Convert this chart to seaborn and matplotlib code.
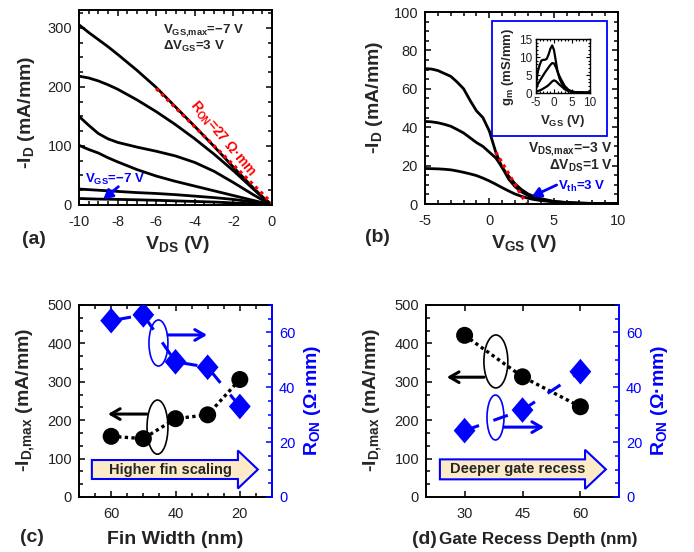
import numpy as np
import pandas as pd
import matplotlib
matplotlib.use("Agg")
import matplotlib.pyplot as plt
import seaborn as sns
from matplotlib.patches import Ellipse, FancyArrow, Rectangle
from matplotlib.ticker import MultipleLocator, AutoMinorLocator

# ---------------- data ----------------
# (a) output characteristics
vds_a = [-10, -9.5, -9, -8.5, -8, -7, -6, -5, -4, -3, -2, -1, -0.5, 0]
id_a1 = [305, 292, 280, 268, 255, 228, 199, 166, 133, 99, 64, 30, 14, 0]
id_a2 = [218, 215, 210, 203.5, 196, 178, 158, 136, 112, 86, 58, 28, 13, 0]
id_a3 = [150, 135, 121, 112, 106, 98, 91, 83, 72, 57, 38, 18, 8.5, 0]
id_a4 = [101, 94, 88, 80, 73, 60, 49, 40, 32, 24, 16, 8, 4, 0]
id_a5 = [27, 26, 25, 24, 23, 21, 19.5, 17.5, 15, 12.5, 9.5, 5, 2.5, 0]
id_a6 = [11, 10.5, 10, 9.8, 9.5, 8.8, 8, 7, 6, 5, 3.5, 2, 1, 0]
ron_line_x = [-6, 0]
ron_line_y = [197, 3]

# (b) transfer characteristics
vgs_b = [-5, -4.5, -4, -3.5, -3, -2.5, -2, -1.5, -1, -0.5, 0, 0.5, 1, 1.5, 2,
         2.5, 3, 3.5, 4, 5, 6, 7, 8, 9, 10]
id_b1 = [70.5, 70.3, 69.5, 68, 66.5, 63.5, 60, 54, 48.5, 45, 38, 27, 19, 13, 9,
         6.3, 4.5, 3.2, 2.4, 1.2, 0.7, 0.4, 0.3, 0.2, 0.2]
id_b2 = [43, 42.8, 42.3, 41.5, 40.5, 38.8, 37, 34.5, 32, 30, 27, 24, 19, 14.5,
         10.5, 7.5, 5.3, 3.8, 2.8, 1.4, 0.8, 0.5, 0.3, 0.2, 0.2]
id_b3 = [18.5, 18.4, 18.3, 18.1, 17.8, 17.2, 16.5, 15.7, 14.8, 13.5, 12, 10.3,
         8.5, 6.8, 5.2, 4, 3, 2.3, 1.8, 1.1, 0.7, 0.4, 0.3, 0.2, 0.2]
vth_line_x = [0.5, 2.9]
vth_line_y = [27, 0]

# (b) inset transconductance
vgs_in = [-5, -4.5, -4, -3.5, -3, -2.5, -2, -1.5, -1, -0.5, 0, 0.5, 1, 1.5, 2,
          3, 4, 5, 6, 8, 10]
gm_1 = [2.5, 6, 7.8, 9.1, 9.3, 9.3, 9.6, 10.8, 12.4, 13.3, 12, 9, 6, 4.2, 3,
        1.5, 0.7, 0.4, 0.3, 0.2, 0.2]
gm_2 = [1.3, 2.5, 3.4, 4.2, 5, 5.8, 6.5, 7.2, 7.9, 8.4, 8.3, 7.3, 6, 4.8, 3.8,
        2, 1, 0.5, 0.3, 0.2, 0.2]
gm_3 = [0.4, 0.6, 0.8, 1.0, 1.3, 1.6, 1.9, 2.3, 2.8, 3.3, 3.6, 3.4, 2.9, 2.4,
        2.0, 1.1, 0.6, 0.4, 0.3, 0.2, 0.2]

# (c) fin width dependence
fin_width = [60, 50, 40, 30, 20]
idmax_c = [158, 152, 204, 214, 306]
ron_c = [64.3, 66.4, 49.3, 47.3, 33]

# (d) gate recess depth dependence
recess_depth = [30, 45, 60]
idmax_d = [421, 313, 235]
ron_d = [24.2, 31.7, 45.7]

# ---------------- style ----------------
sns.set_theme(style="ticks")
plt.rcParams.update({
    "font.family": ["Liberation Sans", "DejaVu Sans"],
    "mathtext.fontset": "custom",
    "mathtext.rm": "Liberation Sans",
    "mathtext.bf": "Liberation Sans:bold",
    "mathtext.it": "Liberation Sans:italic",
    "axes.unicode_minus": False,
    "axes.linewidth": 1.4,
    "axes.edgecolor": "black",
    "xtick.color": "black",
    "ytick.color": "black",
    "xtick.labelcolor": "#222222",
    "ytick.labelcolor": "#222222",
    "xtick.labelsize": 10.5,
    "ytick.labelsize": 10.5,
    "xtick.major.pad": 7,
    "ytick.major.pad": 5,
    "axes.labelsize": 14,
    "axes.labelweight": "bold",
})

BLUE = "#0000FF"
RED = "#FF0000"
TICK_KW = dict(which="both", direction="in", width=1.1)

fig = plt.figure(figsize=(6.94, 5.52), dpi=100)
W, H = 694.0, 552.0


def box(l, r, t, b):
    return [l / W, 1 - b / H, (r - l) / W, (b - t) / H]


def set_ticks(ax, top=True, right=True):
    ax.tick_params(**TICK_KW, top=top, right=right)
    ax.tick_params(which="major", length=4.5)
    ax.tick_params(which="minor", length=2.8)


def long_df(x, curves):
    rows = []
    for i, c in enumerate(curves):
        for xv, yv in zip(x, c):
            rows.append({"x": xv, "y": yv, "curve": str(i)})
    return pd.DataFrame(rows)


# ---------------- (a) ----------------
ax_a = fig.add_axes(box(79, 272, 10, 205))
df_a = long_df(vds_a, [id_a1, id_a2, id_a3, id_a4, id_a5, id_a6])
sns.lineplot(data=df_a, x="x", y="y", hue="curve", palette=["black"] * 6,
             estimator=None, sort=False, legend=False, lw=2.0, ax=ax_a)
ax_a.plot(ron_line_x, ron_line_y, color=RED, ls=(0, (1, 1.2)), lw=2.4)
ax_a.set_xlim(-10, 0)
ax_a.set_ylim(0, 330)
ax_a.xaxis.set_major_locator(MultipleLocator(2))
ax_a.xaxis.set_minor_locator(MultipleLocator(0.5))
ax_a.yaxis.set_major_locator(MultipleLocator(100))
ax_a.yaxis.set_minor_locator(MultipleLocator(25))
set_ticks(ax_a)
ax_a.set_xlabel(r"V$_{\mathbf{DS}}$ (V)")
ax_a.set_ylabel(r"-I$_{\mathbf{D}}$ (mA/mm)")
ax_a.xaxis.set_label_coords(0.508, -0.15)
ax_a.yaxis.set_label_coords(-0.218, 0.477)
ax_a.text(-5.65, 291, r"V$_{\mathbf{GS{,}max}}$=−7 V", fontsize=9.5,
          fontweight="bold", va="baseline", ha="left")
ax_a.text(-5.65, 263, r"ΔV$_{\mathbf{GS}}$=3 V", fontsize=9.5, fontweight="bold",
          va="baseline", ha="left")
ax_a.text(-2.55, 112, r"R$_{\mathbf{ON}}$=27 Ω·mm", color=RED, fontsize=10,
          fontweight="bold", rotation=-50, ha="center", va="center",
          rotation_mode="anchor")
ax_a.text(-9.69, 37, r"V$_{\mathbf{GS}}$=−7 V", color=BLUE, fontsize=9.5,
          fontweight="bold", va="baseline", ha="left")
ax_a.annotate("", xy=(-8.74, 9.7), xytext=(-7.96, 31),
              arrowprops=dict(arrowstyle="-|>,head_length=0.45,head_width=0.25",
                              color=BLUE, lw=2, shrinkA=0, shrinkB=0))

# ---------------- (b) ----------------
ax_b = fig.add_axes(box(425, 618, 12, 204))
df_b = long_df(vgs_b, [id_b1, id_b2, id_b3])
sns.lineplot(data=df_b, x="x", y="y", hue="curve", palette=["black"] * 3,
             estimator=None, sort=False, legend=False, lw=2.0, ax=ax_b)
ax_b.plot(vth_line_x, vth_line_y, color=RED, ls=(0, (1, 1.2)), lw=2.4)
ax_b.set_xlim(-5, 10)
ax_b.set_ylim(0, 100)
ax_b.xaxis.set_major_locator(MultipleLocator(5))
ax_b.xaxis.set_minor_locator(MultipleLocator(1))
ax_b.yaxis.set_major_locator(MultipleLocator(20))
ax_b.yaxis.set_minor_locator(MultipleLocator(5))
set_ticks(ax_b)
ax_b.set_xlabel(r"V$_{\mathbf{GS}}$ (V)")
ax_b.set_ylabel(r"-I$_{\mathbf{D}}$ (mA/mm)")
ax_b.xaxis.set_label_coords(0.513, -0.152)
ax_b.yaxis.set_label_coords(-0.207, 0.557)
ax_b.text(9.6, 27.2, r"V$_{\mathbf{DS{,}max}}$=−3 V", fontsize=10,
          fontweight="bold", va="baseline", ha="right")
ax_b.text(9.6, 17.8, r"ΔV$_{\mathbf{DS}}$=1 V", fontsize=10, fontweight="bold",
          va="baseline", ha="right")
ax_b.text(5.33, 7.3, r"V$_{\mathbf{th}}$=3 V", color=BLUE, fontsize=9.5,
          fontweight="bold", va="baseline", ha="left")
ax_b.annotate("", xy=(3.29, 3.8), xytext=(5.23, 9.9),
              arrowprops=dict(arrowstyle="-|>,head_length=0.45,head_width=0.25",
                              color=BLUE, lw=2, shrinkA=0, shrinkB=0))

# inset frame
fig.add_artist(Rectangle((492 / W, 1 - 135.7 / H), 114.7 / W, 115 / H,
                         transform=fig.transFigure, facecolor="white",
                         edgecolor=BLUE, lw=1.3, zorder=3))
ax_in = fig.add_axes(box(536, 590, 39.3, 93.3))
ax_in.set_zorder(5)
df_in = long_df(vgs_in, [gm_1, gm_2, gm_3])
sns.lineplot(data=df_in, x="x", y="y", hue="curve", palette=["black"] * 3,
             estimator=None, sort=False, legend=False, lw=1.6, ax=ax_in)
ax_in.set_xlim(-5, 10)
ax_in.set_ylim(0, 15)
ax_in.xaxis.set_major_locator(MultipleLocator(5))
ax_in.xaxis.set_minor_locator(MultipleLocator(1))
ax_in.yaxis.set_major_locator(MultipleLocator(5))
ax_in.yaxis.set_minor_locator(MultipleLocator(1))
for s in ax_in.spines.values():
    s.set_linewidth(1.0)
ax_in.tick_params(which="both", direction="in", top=True, right=True, width=0.8,
                  labelsize=8.5, pad=2.5)
ax_in.tick_params(which="major", length=3)
ax_in.tick_params(which="minor", length=1.5)
ax_in.set_xlabel(r"V$_{\mathbf{GS}}$ (V)", fontsize=9.5, labelpad=3)
ax_in.set_ylabel(r"g$_{\mathbf{m}}$ (mS/mm)", fontsize=9.5, labelpad=2)


# ---------------- (c) & (d) helpers ----------------
def twin_setup(ax, ax2):
    ax.spines["right"].set_visible(False)
    for k in ("left", "top", "bottom"):
        ax2.spines[k].set_visible(False)
    ax2.spines["right"].set_color(BLUE)
    ax2.spines["right"].set_linewidth(1.4)
    ax.set_ylim(0, 500)
    ax.yaxis.set_major_locator(MultipleLocator(100))
    ax.yaxis.set_minor_locator(AutoMinorLocator(3))
    ax2.set_ylim(0, 70)
    ax2.yaxis.set_major_locator(MultipleLocator(20))
    ax2.yaxis.set_minor_locator(MultipleLocator(5))
    ax.tick_params(**TICK_KW, top=True, right=False, left=True, bottom=True)
    ax.tick_params(which="major", length=4.5)
    ax.tick_params(which="minor", length=2.8)
    ax2.tick_params(**TICK_KW, right=True, left=False, colors=BLUE,
                    labelcolor=BLUE)
    ax2.tick_params(which="major", length=4.5)
    ax2.tick_params(which="minor", length=2.8)
    ax.set_ylabel(r"-I$_{\mathbf{D{,}max}}$ (mA/mm)")
    ax2.set_ylabel(r"R$_{\mathbf{ON}}$ (Ω·mm)", color=BLUE)
    ax.yaxis.set_label_coords(-0.218, 0.505)
    ax2.yaxis.set_label_coords(1.155, 0.505)


DIAMOND = [(0, 1), (0.85, 0), (0, -1), (-0.85, 0), (0, 1)]
ARW_BLK = dict(arrowstyle="->,head_length=0.55,head_width=0.32", color="black",
               lw=2.2, shrinkA=0, shrinkB=0)
ARW_BLU = dict(arrowstyle="->,head_length=0.55,head_width=0.32", color=BLUE,
               lw=2.2, shrinkA=0, shrinkB=0)
DASH_BLUE = (0, (5, 5))

# ---------------- (c) ----------------
ax_c = fig.add_axes(box(79, 272, 305, 497))
ax_c2 = ax_c.twinx()
ax_c.set_xlim(70, 10)
ax_c.xaxis.set_major_locator(MultipleLocator(20))
ax_c.xaxis.set_minor_locator(MultipleLocator(5))
twin_setup(ax_c, ax_c2)
ax_c.add_patch(FancyArrow(66, 71.6, 14.4 - 66, 0, width=49.4, head_width=99,
                          head_length=6.2, length_includes_head=True,
                          facecolor="#FDEBC8", edgecolor=BLUE, lw=1.5, zorder=2))
ax_c.text(41.7, 71.6, "Higher fin scaling", ha="center", va="center",
          fontsize=10.5, fontweight="bold", zorder=3)
sns.lineplot(x=fin_width, y=idmax_c, ax=ax_c, color="black", lw=2.4,
             linestyle=(0, (1, 1)), zorder=3)
sns.scatterplot(x=fin_width, y=idmax_c, ax=ax_c, color="black", s=150,
                edgecolor="none", zorder=4)
ax_c.add_patch(Ellipse((45.6, 182), 6.5, 141, fill=False, ec="black", lw=1.2))
ax_c.annotate("", xy=(61, 216), xytext=(48.9, 216), arrowprops=ARW_BLK)
sns.lineplot(x=fin_width, y=ron_c, ax=ax_c2, color=BLUE, lw=2.2,
             linestyle=DASH_BLUE, zorder=3)
sns.scatterplot(x=fin_width, y=ron_c, ax=ax_c2, color=BLUE, s=340,
                marker=DIAMOND, edgecolor="none", zorder=4)
ax_c2.add_patch(Ellipse((45.3, 401 * 70 / 500), 5.9, 120 * 70 / 500, fill=False,
                        ec=BLUE, lw=1.2))
ax_c2.annotate("", xy=(30.2, 422 * 70 / 500), xytext=(42.3, 422 * 70 / 500),
               arrowprops=ARW_BLU)
ax_c.set_xlabel("Fin Width (nm)", color="#222222")
ax_c.xaxis.set_label_coords(0.497, -0.178)

# ---------------- (d) ----------------
ax_d = fig.add_axes(box(426, 619, 305, 497))
ax_d2 = ax_d.twinx()
ax_d.set_xlim(20, 70)
ax_d.set_xticks(recess_depth)
twin_setup(ax_d, ax_d2)
ax_d.add_patch(FancyArrow(23.6, 72, 66.6 - 23.6, 0, width=52, head_width=102,
                          head_length=5.4, length_includes_head=True,
                          facecolor="#FDEBC8", edgecolor=BLUE, lw=1.5, zorder=2))
ax_d.text(43.7, 72, "Deeper gate recess", ha="center", va="center",
          fontsize=10.5, fontweight="bold", zorder=3)
sns.lineplot(x=recess_depth, y=idmax_d, ax=ax_d, color="black", lw=2.4,
             linestyle=(0, (1, 1)), zorder=3)
sns.scatterplot(x=recess_depth, y=idmax_d, ax=ax_d, color="black", s=150,
                edgecolor="none", zorder=4)
ax_d.add_patch(Ellipse((38.1, 353), 6.2, 138, fill=False, ec="black", lw=1.2))
ax_d.annotate("", xy=(25.4, 312), xytext=(35, 312), arrowprops=ARW_BLK)
sns.lineplot(x=recess_depth, y=ron_d, ax=ax_d2, color=BLUE, lw=2.2,
             linestyle=DASH_BLUE, zorder=3)
sns.scatterplot(x=recess_depth, y=ron_d, ax=ax_d2, color=BLUE, s=340,
                marker=DIAMOND, edgecolor="none", zorder=4)
ax_d2.add_patch(Ellipse((38, 207 * 70 / 500), 4.4, 117 * 70 / 500, fill=False,
                        ec=BLUE, lw=1.2))
ax_d2.annotate("", xy=(50.6, 182 * 70 / 500), xytext=(40.2, 182 * 70 / 500),
               arrowprops=ARW_BLU)
ax_d.set_xlabel("Gate Recess Depth (nm)", color="#222222", fontsize=12.3)
ax_d.xaxis.set_label_coords(0.58, -0.183)

# ---------------- panel labels ----------------
for lbl, x, y in [("(a)", 22, 239), ("(b)", 365, 237.5), ("(c)", 20, 538),
                  ("(d)", 412, 539.5)]:
    fig.text(x / W, 1 - y / H, lbl, fontsize=14, fontweight="bold",
             ha="left", va="center")

fig.savefig("out.png", dpi=100)
